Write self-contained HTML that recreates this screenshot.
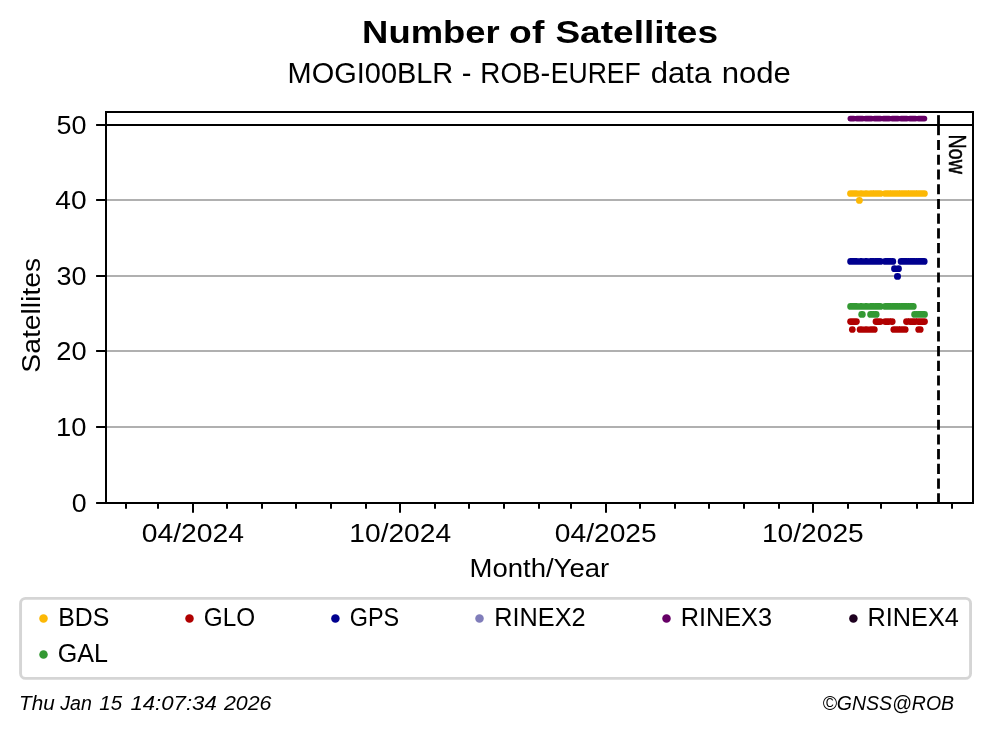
<!DOCTYPE html>
<html lang="en">
<head>
<meta charset="utf-8">
<title>Number of Satellites - MOGI00BLR - ROB-EUREF data node</title>
<style>
html,body{margin:0;padding:0;background:#fff;}
body{width:993px;height:734px;overflow:hidden;}
svg{display:block;will-change:transform;}
text{font-family:"Liberation Sans",sans-serif;fill:#000;white-space:pre;}
.b{font-weight:bold;}
.i{font-style:italic;}
</style>
</head>
<body>
<svg width="993" height="734" viewBox="0 0 993 734">
<rect x="0" y="0" width="993" height="734" fill="#ffffff"/>
<!-- titles -->
<text font-size="31.56" class="b"><tspan x="362.09" y="43.0" textLength="137.63" lengthAdjust="spacingAndGlyphs">Number</tspan> <tspan x="509.12" y="43.0" textLength="35.22" lengthAdjust="spacingAndGlyphs">of</tspan> <tspan x="555.43" y="43.0" textLength="162.58" lengthAdjust="spacingAndGlyphs">Satellites</tspan></text>
<text font-size="29.22"><tspan x="287.62" y="82.7" textLength="165.68" lengthAdjust="spacingAndGlyphs">MOGI00BLR</tspan> <tspan x="461.66" y="82.7" textLength="9.67" lengthAdjust="spacingAndGlyphs">-</tspan> <tspan x="480.32" y="82.7" textLength="60.28" lengthAdjust="spacingAndGlyphs">ROB</tspan><tspan x="540.6" y="82.7" textLength="9.73" lengthAdjust="spacingAndGlyphs">-</tspan><tspan x="550.83" y="82.7" textLength="89.93" lengthAdjust="spacingAndGlyphs">EUREF</tspan> <tspan x="650.67" y="82.7" textLength="60.56" lengthAdjust="spacingAndGlyphs">data</tspan> <tspan x="721.67" y="82.7" textLength="69.28" lengthAdjust="spacingAndGlyphs">node</tspan></text>
<!-- gridlines -->
<g stroke="#b0b0b0" stroke-width="2">
<line x1="106.0" x2="973.0" y1="427.00" y2="427.00"/>
<line x1="106.0" x2="973.0" y1="351.00" y2="351.00"/>
<line x1="106.0" x2="973.0" y1="276.00" y2="276.00"/>
<line x1="106.0" x2="973.0" y1="200.00" y2="200.00"/>
</g>
<!-- data -->
<g stroke-linecap="round" fill="none">
<path d="M850.55 321.60h5.90" stroke="#b00000" stroke-width="6.7"/>
<path d="M875.95 321.60h4.35 M885.30 321.60h3.45 M891.85 321.60h0.40" stroke="#b00000" stroke-width="6.7"/>
<path d="M906.45 321.60h0.50 M910.05 321.60h5.10 M918.25 321.60h6.30" stroke="#b00000" stroke-width="6.7"/>
<path d="M852.30 329.50h0.01" stroke="#b00000" stroke-width="6.7"/>
<path d="M860.05 329.50h1.60 M865.55 329.50h1.20 M870.65 329.50h3.70" stroke="#b00000" stroke-width="6.7"/>
<path d="M893.75 329.50h4.20 M901.05 329.50h4.20" stroke="#b00000" stroke-width="6.7"/>
<path d="M918.65 329.50h1.60" stroke="#b00000" stroke-width="6.7"/>
<path d="M850.55 306.40h6.10 M860.55 306.40h1.10 M865.55 306.40h1.20 M870.65 306.40h1.10 M874.85 306.40h5.45 M885.30 306.40h3.45 M891.85 306.40h6.10 M901.05 306.40h5.90 M910.05 306.40h3.30" stroke="#339933" stroke-width="6.7"/>
<path d="M861.65 314.40h0.70" stroke="#339933" stroke-width="6.7"/>
<path d="M870.55 314.40h1.20 M874.85 314.40h1.40" stroke="#339933" stroke-width="6.7"/>
<path d="M914.55 314.40h0.60 M918.25 314.40h6.30" stroke="#339933" stroke-width="6.7"/>
<path d="M850.55 261.45h6.10 M860.55 261.45h1.10 M865.55 261.45h1.20 M870.65 261.45h1.10 M874.85 261.45h5.45 M885.30 261.45h3.45 M891.85 261.45h1.00" stroke="#00008f" stroke-width="6.7"/>
<path d="M901.05 261.45h5.90 M910.05 261.45h5.10 M918.25 261.45h6.00" stroke="#00008f" stroke-width="6.7"/>
<path d="M894.45 268.65h0.01 M898.55 268.65h0.01" stroke="#00008f" stroke-width="6.7"/>
<path d="M897.35 276.45h0.30" stroke="#00008f" stroke-width="6.7"/>
<path d="M850.45 193.50h6.20 M860.55 193.50h1.10 M865.55 193.50h1.20 M870.65 193.50h1.10 M874.85 193.50h5.45 M885.30 193.50h3.45 M891.85 193.50h6.10 M901.05 193.50h5.90 M910.05 193.50h5.10 M918.25 193.50h6.20" stroke="#fcb805" stroke-width="6.7"/>
<path d="M859.35 200.45h0.10" stroke="#fcb805" stroke-width="6.7"/>
<path d="M850.40 118.60h3.35 M856.85 118.60h5.70 M865.65 118.60h5.80 M874.55 118.60h5.80 M883.45 118.60h5.70 M892.25 118.60h5.70 M901.05 118.60h5.80 M909.95 118.60h5.50 M918.55 118.60h5.85" stroke="#660066" stroke-width="5.8"/>
</g>
<!-- y=50 line, Now line, spines -->
<line x1="106.0" x2="973.0" y1="125.0" y2="125.0" stroke="#000" stroke-width="2"/>
<line x1="938.5" x2="938.5" y1="115.15" y2="135.2" stroke="#000" stroke-width="2.8"/>
<line x1="938.5" x2="938.5" y1="140.0" y2="503.0" stroke="#000" stroke-width="2.8" stroke-dasharray="10.1 4.62"/>
<rect x="106.0" y="112.0" width="867.00" height="391.00" fill="none" stroke="#000" stroke-width="2"/>
<!-- ticks -->
<g stroke="#000" stroke-width="2">
<line x1="96.10" x2="106.0" y1="503.00" y2="503.00"/>
<line x1="96.10" x2="106.0" y1="427.00" y2="427.00"/>
<line x1="96.10" x2="106.0" y1="351.00" y2="351.00"/>
<line x1="96.10" x2="106.0" y1="276.00" y2="276.00"/>
<line x1="96.10" x2="106.0" y1="200.00" y2="200.00"/>
<line x1="96.10" x2="106.0" y1="125.00" y2="125.00"/>
</g>
<g stroke="#000">
<line x1="126.00" x2="126.00" y1="503.0" y2="508.70" stroke-width="2"/>
<line x1="158.00" x2="158.00" y1="503.0" y2="508.70" stroke-width="2"/>
<line x1="193.00" x2="193.00" y1="503.0" y2="512.80" stroke-width="2"/>
<line x1="227.00" x2="227.00" y1="503.0" y2="508.70" stroke-width="2"/>
<line x1="262.00" x2="262.00" y1="503.0" y2="508.70" stroke-width="2"/>
<line x1="296.00" x2="296.00" y1="503.0" y2="508.70" stroke-width="2"/>
<line x1="331.00" x2="331.00" y1="503.0" y2="508.70" stroke-width="2"/>
<line x1="366.00" x2="366.00" y1="503.0" y2="508.70" stroke-width="2"/>
<line x1="400.00" x2="400.00" y1="503.0" y2="512.80" stroke-width="2"/>
<line x1="435.00" x2="435.00" y1="503.0" y2="508.70" stroke-width="2"/>
<line x1="469.00" x2="469.00" y1="503.0" y2="508.70" stroke-width="2"/>
<line x1="504.00" x2="504.00" y1="503.0" y2="508.70" stroke-width="2"/>
<line x1="539.00" x2="539.00" y1="503.0" y2="508.70" stroke-width="2"/>
<line x1="571.00" x2="571.00" y1="503.0" y2="508.70" stroke-width="2"/>
<line x1="606.00" x2="606.00" y1="503.0" y2="512.80" stroke-width="2"/>
<line x1="640.00" x2="640.00" y1="503.0" y2="508.70" stroke-width="2"/>
<line x1="675.00" x2="675.00" y1="503.0" y2="508.70" stroke-width="2"/>
<line x1="709.00" x2="709.00" y1="503.0" y2="508.70" stroke-width="2"/>
<line x1="744.00" x2="744.00" y1="503.0" y2="508.70" stroke-width="2"/>
<line x1="779.00" x2="779.00" y1="503.0" y2="508.70" stroke-width="2"/>
<line x1="813.00" x2="813.00" y1="503.0" y2="512.80" stroke-width="2"/>
<line x1="848.00" x2="848.00" y1="503.0" y2="508.70" stroke-width="2"/>
<line x1="881.00" x2="881.00" y1="503.0" y2="508.70" stroke-width="2"/>
<line x1="917.00" x2="917.00" y1="503.0" y2="508.70" stroke-width="2"/>
<line x1="952.00" x2="952.00" y1="503.0" y2="508.70" stroke-width="2"/>
</g>
<!-- labels -->
<text x="71.78" y="511.85" font-size="26.3" textLength="14.87" lengthAdjust="spacingAndGlyphs">0</text>
<text x="56.12" y="435.85" font-size="26.3" textLength="30.44" lengthAdjust="spacingAndGlyphs">10</text>
<text x="56.26" y="359.85" font-size="26.3" textLength="30.3" lengthAdjust="spacingAndGlyphs">20</text>
<text x="56.52" y="284.85" font-size="26.3" textLength="30.02" lengthAdjust="spacingAndGlyphs">30</text>
<text x="55.26" y="208.85" font-size="26.3" textLength="31.32" lengthAdjust="spacingAndGlyphs">40</text>
<text x="56.52" y="133.85" font-size="26.3" textLength="30.02" lengthAdjust="spacingAndGlyphs">50</text>
<text x="141.77" y="541.6" font-size="26.3" textLength="102.3" lengthAdjust="spacingAndGlyphs">04/2024</text>
<text x="349.36" y="541.6" font-size="26.3" textLength="101.71" lengthAdjust="spacingAndGlyphs">10/2024</text>
<text x="554.83" y="541.6" font-size="26.3" textLength="101.91" lengthAdjust="spacingAndGlyphs">04/2025</text>
<text x="761.96" y="541.6" font-size="26.3" textLength="101.78" lengthAdjust="spacingAndGlyphs">10/2025</text>
<text x="469.55" y="576.6" font-size="26.3" textLength="139.61" lengthAdjust="spacingAndGlyphs">Month/Year</text>
<text x="-1.34" y="0" font-size="26.3" textLength="114.67" lengthAdjust="spacingAndGlyphs" transform="translate(39.8 371.3) rotate(-90)">Satellites</text>
<text x="-1.38" y="0" font-size="24.0" textLength="39.14" lengthAdjust="spacingAndGlyphs" transform="translate(949.45 136.0) rotate(90)" stroke="#000" stroke-width="0.5">Now</text>
<!-- legend -->
<rect x="20.57" y="598.4" width="949.98" height="80" rx="5" ry="5" fill="#fff" stroke="#d5d5d5" stroke-width="2.9"/>
<circle cx="43.5" cy="618.4" r="4.25" fill="#fcb805"/>
<text x="58.27" y="626.0" font-size="26.3" textLength="51.13" lengthAdjust="spacingAndGlyphs">BDS</text>
<circle cx="43.5" cy="654.45" r="4.25" fill="#339933"/>
<text x="57.81" y="662.4" font-size="26.3" textLength="50.28" lengthAdjust="spacingAndGlyphs">GAL</text>
<circle cx="189.5" cy="618.4" r="4.25" fill="#b00000"/>
<text x="203.75" y="626.0" font-size="26.3" textLength="51.3" lengthAdjust="spacingAndGlyphs">GLO</text>
<circle cx="335.4" cy="618.4" r="4.25" fill="#00008f"/>
<text x="349.79" y="626.0" font-size="26.3" textLength="49.42" lengthAdjust="spacingAndGlyphs">GPS</text>
<circle cx="479.5" cy="618.4" r="4.25" fill="#807dba"/>
<text x="494.24" y="626.0" font-size="26.3" textLength="91.37" lengthAdjust="spacingAndGlyphs">RINEX2</text>
<circle cx="666.5" cy="618.4" r="4.25" fill="#660066"/>
<text x="680.63" y="626.0" font-size="26.3" textLength="91.47" lengthAdjust="spacingAndGlyphs">RINEX3</text>
<circle cx="853.4" cy="618.4" r="4.25" fill="#1e001f"/>
<text x="867.54" y="626.0" font-size="26.3" textLength="91.28" lengthAdjust="spacingAndGlyphs">RINEX4</text>
<!-- footer -->
<text font-size="20.45" class="i"><tspan x="19.13" y="709.8" textLength="35.65" lengthAdjust="spacingAndGlyphs">Thu</tspan> <tspan x="60.2" y="709.8" textLength="31.61" lengthAdjust="spacingAndGlyphs">Jan</tspan> <tspan x="99.3" y="709.8" textLength="22.79" lengthAdjust="spacingAndGlyphs">15</tspan> <tspan x="130.46" y="709.8" textLength="86.32" lengthAdjust="spacingAndGlyphs">14:07:34</tspan> <tspan x="223.9" y="709.8" textLength="47.57" lengthAdjust="spacingAndGlyphs">2026</tspan></text>
<text x="822.48" y="709.7" font-size="20.45" textLength="131.65" lengthAdjust="spacingAndGlyphs" class="i">©GNSS@ROB</text>
</svg>
</body>
</html>
